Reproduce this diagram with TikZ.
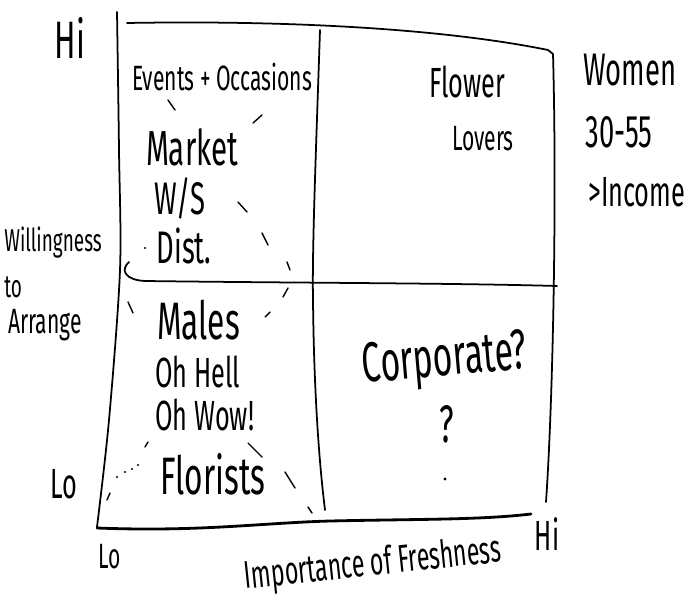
\documentclass[tikz,border=0pt]{standalone}
\usepackage{fontspec}
\setmainfont{Fira Sans}[FakeStretch=0.6]
\tikzset{
  pen/.style={line width=1pt, line cap=round, line join=round},
  axis/.style={pen, line width=1.6pt},
  flick/.style={pen, line width=0.8pt},
  hand/.style={inner sep=0pt, font=\fontsize{#1}{#1}\selectfont},
}
\begin{document}
\begin{tikzpicture}[x=0.02cm, y=-0.02cm]
  \useasboundingbox (0,0) rectangle (685,604);
  \draw[pen] plot[smooth] coordinates {(117,12) (119,150) (120,270) (109,420) (97,527)};
  \draw[pen] (127,23) .. controls (300,20) and (450,30) .. (548,50) -- (553,54)
    .. controls (557,200) and (553,400) .. (546,502);
  \draw[pen] (129,262) .. controls (120,270) and (125,280) .. (145,281)
    .. controls (300,283) and (450,283) .. (557,286);
  \draw[pen] (320,30) .. controls (316,150) and (312,250) .. (313,300)
    .. controls (314,400) and (320,470) .. (325,510);
  \draw[axis] (97,528) .. controls (200,532) and (260,523) .. (330,521)
    .. controls (420,519) and (480,520) .. (531,514);
  \foreach \xa/\ya/\xb/\yb in {168/100/175/110, 253/123/262/115, 238/202/247/212,
      262/233/268/245, 287/262/290/270, 128/302/133/313, 283/297/288/288,
      265/317/270/312, 145/447/148/442, 107/500/110/493, 248/443/262/457,
      285/472/295/488, 308/507/312/513}
    \draw[flick] (\xa,\ya) -- (\xb,\yb);
  \foreach \px/\py in {117/477, 125/472, 132/469, 138/465, 145/248}
    \fill (\px,\py) circle (1.2);
  \node[hand=30] (hiy) at (70,38) {Hi};
  \node[hand=24] (loy) at (64,484) {Lo};
  \node[hand=20] (lox) at (110,557) {Lo};
  \node[hand=24] (hix) at (547,534) {Hi};
  \node[hand=18, anchor=west] (will) at (4,243) {Willingness};
  \node[hand=18, anchor=west] (to) at (4,287) {to};
  \node[hand=20, anchor=west] (arrange) at (8,325) {Arrange};
  \node[hand=22, rotate=6] (fresh) at (373,565) {Importance of Freshness};
  \node[hand=20] (events) at (222,77) {Events + Occasions};
  \node[hand=28] (market) at (192,147) {Market};
  \node[hand=26] (ws) at (180,198) {W/S};
  \node[hand=26] (dist) at (184,246) {Dist.};
  \node[hand=24] (flower) at (467,82) {Flower};
  \node[hand=20] (lovers) at (483,139) {Lovers};
  \node[hand=26, anchor=west] (women) at (583,70) {Women};
  \node[hand=26, anchor=west] (age) at (585,132) {30-55};
  \node[hand=24, anchor=west] (income) at (588,192) {>Income};
  \node[hand=30, anchor=west] (males) at (157,320) {Males};
  \node[hand=24, anchor=west] (hell) at (155,372) {Oh Hell};
  \node[hand=24, anchor=west] (wow) at (155,415) {Oh Wow!};
  \node[hand=30] (florists) at (213,474) {Florists};
  \node[hand=32, rotate=5] (corp) at (445,362) {Corporate?};
  \node[hand=30] (quest) at (447,424) {?};
  \fill (445,479) circle (1.6);
\end{tikzpicture}
\end{document}
